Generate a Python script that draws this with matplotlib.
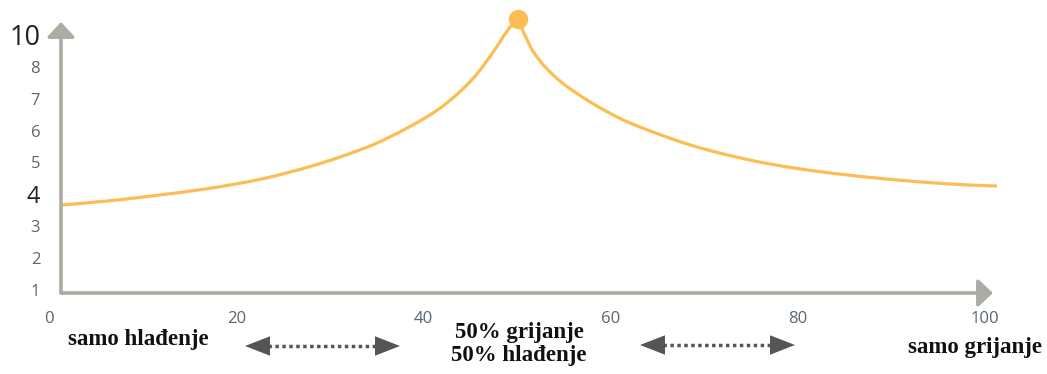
import matplotlib
matplotlib.use("Agg")
import matplotlib.pyplot as plt
import numpy as np
from matplotlib.transforms import ScaledTranslation
from matplotlib.patches import FancyArrowPatch, PathPatch
from matplotlib.path import Path

# ---- data ----
x_vals = [0, 5.24, 10.58, 15.92, 21.26, 26.60, 29.81, 33.37, 36.93, 40.49, 44.05, 46.19,
          47.62, 48.32, 48.80,
          49.39, 50.46, 52.96, 56.52, 60.08, 63.64, 67.20, 70.41, 75.75, 81.09, 86.43,
          91.77, 97.12, 100.0]
y_vals = [3.66, 3.80, 3.98, 4.19, 4.47, 4.87, 5.17, 5.56, 6.07, 6.70, 7.64, 8.47,
          9.10, 9.36, 9.49,
          9.10, 8.47, 7.64, 6.90, 6.33, 5.91, 5.55, 5.29, 4.95, 4.71, 4.53,
          4.39, 4.29, 4.26]
ytick_pos = [1, 2, 3, 4, 5, 6, 7, 8, 9]
ytick_labels = ["1", "2", "3", "4", "5", "6", "7", "8", "10"]
xtick_pos = [0, 20, 40, 60, 80, 100]
xtick_labels = ["0", "20", "40", "60", "80", "100"]
label_left = "samo hlađenje"
label_mid = "50% grijanje\n50% hlađenje"
label_right = "samo grijanje"

W, H = 1047, 374
fig = plt.figure(figsize=(W / 100, H / 100), dpi=100)
L, R, B, T = 61, 997, 293, 15.7
ax = fig.add_axes([L / W, (H - B) / H, (R - L) / W, (B - T) / H])
ax.set_xlim(0, 100)
ax.set_ylim(0.906, 9.6)
for s in ax.spines.values():
    s.set_visible(False)


def smooth_path(xs, ys):
    """Monotone cubic (Fritsch-Carlson) Bezier path through the given points."""
    xs = np.asarray(xs, float)
    ys = np.asarray(ys, float)
    h = np.diff(xs)
    d = np.diff(ys) / h
    n = len(xs)
    m = np.zeros(n)
    m[0], m[-1] = d[0], d[-1]
    for i in range(1, n - 1):
        if d[i - 1] * d[i] <= 0:
            m[i] = 0
        else:
            w1 = 2 * h[i] + h[i - 1]
            w2 = h[i] + 2 * h[i - 1]
            m[i] = (w1 + w2) / (w1 / d[i - 1] + w2 / d[i])
    verts = [(xs[0], ys[0])]
    codes = [Path.MOVETO]
    for i in range(n - 1):
        verts += [(xs[i] + h[i] / 3, ys[i] + m[i] * h[i] / 3),
                  (xs[i + 1] - h[i] / 3, ys[i + 1] - m[i + 1] * h[i] / 3),
                  (xs[i + 1], ys[i + 1])]
        codes += [Path.CURVE4] * 3
    return Path(verts, codes)


line_col = "#fdbd52"
imax = y_vals.index(max(y_vals))
for seg in (slice(0, imax + 1), slice(imax, None)):
    p = smooth_path(x_vals[seg], y_vals[seg])
    ax.add_patch(PathPatch(p, fill=False, edgecolor=line_col, lw=2.3,
                           capstyle="butt", joinstyle="round", zorder=3, clip_on=False))
ax.plot([x_vals[imax]], [y_vals[imax]], "o", color=line_col, ms=14, zorder=4,
        mec="none", clip_on=False)


def px(xp, yp):
    return (xp / W, (H - yp) / H)


# axis arrows
gray = "#acaca4"
for start, end in [((61, 293), (61, 22)), ((61, 293), (993, 293))]:
    a = FancyArrowPatch(px(*start), px(*end), transform=fig.transFigure,
                        arrowstyle="-|>,head_length=0.45,head_width=0.42",
                        mutation_scale=20, color=gray, lw=2.6, shrinkA=0, shrinkB=0)
    fig.patches.append(a)

# y ticks
ax.set_yticks(ytick_pos)
ax.set_yticklabels(ytick_labels)
ax.tick_params(axis="y", length=0, pad=15)
for lab in ax.get_yticklabels():
    t = lab.get_text()
    lab.set_family("Open Sans")
    if t == "10":
        lab.set_fontsize(19.5)
        lab.set_color("#222222")
    elif t == "4":
        lab.set_fontsize(17)
        lab.set_color("#222222")
    else:
        lab.set_fontsize(12)
        lab.set_color("#5a6670")

# x ticks
ax.set_xticks(xtick_pos)
ax.set_xticklabels(xtick_labels)
ax.tick_params(axis="x", length=0, pad=13)
off = ScaledTranslation(-12 / 100, 0, fig.dpi_scale_trans)
for lab in ax.get_xticklabels():
    lab.set_family("Open Sans")
    lab.set_fontsize(12)
    lab.set_color("#5a6670")
    lab.set_transform(lab.get_transform() + off)

# bold serif labels
kw = dict(transform=fig.transFigure, family="Liberation Serif", weight="bold",
          fontsize=16.5, color="#111111", va="center")
fig.text(*px(68, 340), label_left, ha="left", **kw)
fig.text(*px(519, 344), label_mid, ha="center", linespacing=1.1, **kw)
fig.text(*px(1042, 347), label_right, ha="right", **kw)

# double dotted arrows
dark = "#555555"
for x0, x1, yy in [(245, 400, 346), (640, 795, 345)]:
    fig.lines.append(plt.Line2D([px(x0 + 16, yy)[0], px(x1 - 16, yy)[0]],
                                [px(x0, yy)[1]] * 2, transform=fig.transFigure,
                                color=dark, lw=2.5, ls=(0, (1, 1))))
    for tip, tail in [(x0, x0 + 20), (x1, x1 - 20)]:
        a = FancyArrowPatch(px(tail, yy), px(tip, yy), transform=fig.transFigure,
                            arrowstyle="-|>,head_length=0.9,head_width=0.35",
                            mutation_scale=20, color=dark, lw=0, shrinkA=0, shrinkB=0)
        fig.patches.append(a)

fig.savefig("out.png", dpi=100)
